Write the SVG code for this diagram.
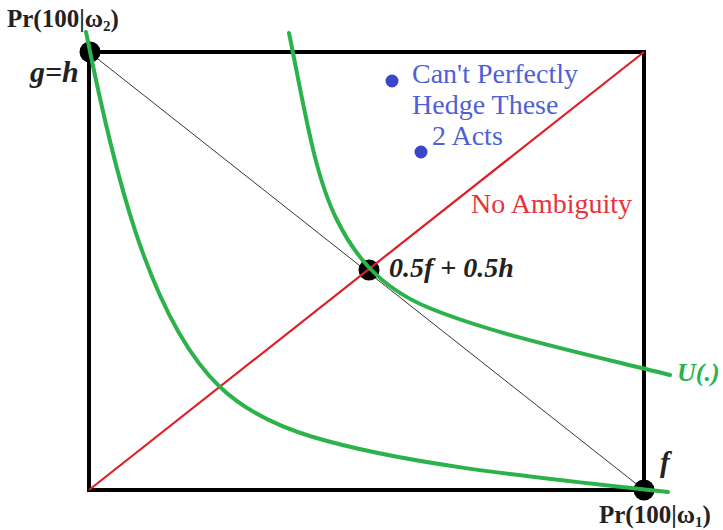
<svg xmlns="http://www.w3.org/2000/svg" width="723" height="530" viewBox="0 0 723 530" font-family="'Liberation Serif', Tinos, 'Times New Roman', 'DejaVu Serif', serif">
<style>
text{font-family:"Liberation Serif",Tinos,"Times New Roman","DejaVu Serif",serif}
.bi{font-weight:bold;font-style:italic}
.b{font-weight:bold}
.blue{fill:#4f5fd6;font-size:28px}
.red{fill:#e8323c;font-size:28px}
.curve{fill:none;stroke:#2cb24a;stroke-width:4;stroke-linecap:round}
.dot{fill:#000}
</style>
<rect width="723" height="530" fill="#fff"/>
<g id="box">
<rect x="89" y="52" width="555" height="438" fill="none" stroke="#000" stroke-width="4"/>
</g>
<g id="node-gh"><circle class="dot" cx="90" cy="52" r="10.5"/></g>
<g id="node-mix"><circle class="dot" cx="369" cy="270" r="10.5"/></g>
<g id="node-f"><circle class="dot" cx="644" cy="490" r="10.5"/></g>
<g id="connectors">
<line x1="89" y1="52" x2="644" y2="490" stroke="#000" stroke-width="0.8"/>
<line x1="89" y1="490" x2="644" y2="52" stroke="#e01e26" stroke-width="2.2"/>
<path class="curve" d="M86,32 C111.5,159.4 147.5,318.1 220,387 C245.4,411.1 279.5,427 313,437 C408.8,465.7 548.7,478.9 668,492"/>
<path class="curve" d="M289,33 C305,111.4 314.6,175.3 337,220 C352.6,251.3 376.3,285.7 427,307 C491.5,334.1 592.4,355.6 670,375"/>
</g>
<g id="blue-dots">
<circle cx="392" cy="81" r="6.5" fill="#3a46c8"/>
<circle cx="421" cy="152" r="6.5" fill="#3a46c8"/>
</g>
<g id="labels">
<text class="b" x="7" y="27" font-size="25" fill="#222">Pr(100|ω<tspan font-size="15" dy="4">2</tspan><tspan dy="-4">)</tspan></text>
<text class="bi" x="30" y="82" font-size="30" fill="#222">g=h</text>
<text class="blue" x="412" y="83">Can't Perfectly</text>
<text class="blue" x="412" y="114">Hedge These</text>
<text class="blue" x="432" y="145">2 Acts</text>
<text class="red" x="471" y="213">No Ambiguity</text>
<text class="bi" x="389" y="277" font-size="28" fill="#222">0.5f + 0.5h</text>
<text class="bi" x="677" y="381" font-size="26" fill="#2cb24a">U(.)</text>
<text class="bi" x="660" y="472" font-size="29" fill="#222">f</text>
<text class="b" x="599" y="523" font-size="25" fill="#222">Pr(100|ω<tspan font-size="15" dy="4">1</tspan><tspan dy="-4">)</tspan></text>
</g>
</svg>
